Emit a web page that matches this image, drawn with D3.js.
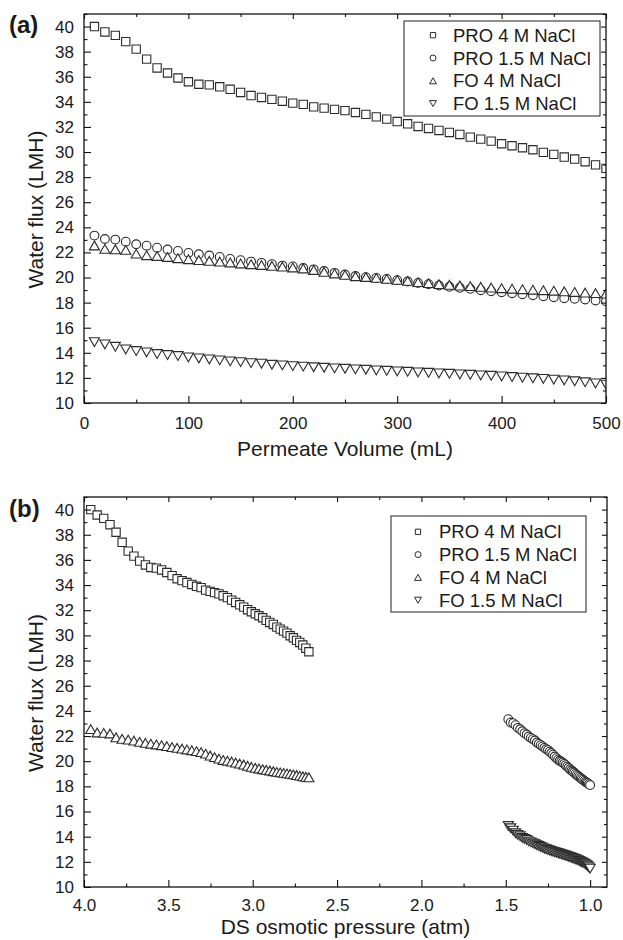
<!DOCTYPE html>
<html>
<head>
<meta charset="utf-8">
<script src="https://cdn.jsdelivr.net/npm/d3@7"></script>
<style>
  body { margin: 0; background: #fff; }
  svg text { font-family: "Liberation Sans", Arial, sans-serif; fill: #1a1a1a; }
</style>
</head>
<body>
<div id="chart"></div>
<script>
const width = 623;
const height = 940;

// permeate volume (mL)
const volume = [10, 20, 30, 40, 50, 60, 70, 80, 90, 100,
  110, 120, 130, 140, 150, 160, 170, 180, 190, 200,
  210, 220, 230, 240, 250, 260, 270, 280, 290, 300,
  310, 320, 330, 340, 350, 360, 370, 380, 390, 400,
  410, 420, 430, 440, 450, 460, 470, 480, 490, 500];

// DS osmotic pressure (atm) for the 4 M and 1.5 M runs
const osm4M = [3.960, 3.922, 3.883, 3.846, 3.810, 3.774, 3.738, 3.704, 3.670, 3.636,
  3.604, 3.571, 3.540, 3.509, 3.478, 3.448, 3.419, 3.390, 3.361, 3.333,
  3.306, 3.279, 3.252, 3.226, 3.200, 3.175, 3.150, 3.125, 3.101, 3.077,
  3.053, 3.030, 3.008, 2.985, 2.963, 2.941, 2.920, 2.899, 2.878, 2.857,
  2.837, 2.817, 2.797, 2.778, 2.759, 2.740, 2.721, 2.703, 2.685, 2.667];
const osm15M = [1.485, 1.471, 1.456, 1.442, 1.429, 1.415, 1.402, 1.389, 1.376, 1.364,
  1.351, 1.339, 1.327, 1.316, 1.304, 1.293, 1.282, 1.271, 1.261, 1.250,
  1.240, 1.230, 1.220, 1.210, 1.200, 1.190, 1.181, 1.172, 1.163, 1.154,
  1.145, 1.136, 1.128, 1.119, 1.111, 1.103, 1.095, 1.087, 1.079, 1.071,
  1.064, 1.056, 1.049, 1.042, 1.034, 1.027, 1.020, 1.014, 1.007, 1.000];

// water flux (LMH)
const pro4M = [40.0, 39.57, 39.3, 38.8, 38.2, 37.4, 36.7, 36.3, 35.9, 35.6,
  35.4, 35.35, 35.2, 35.0, 34.75, 34.5, 34.35, 34.2, 34.05, 33.9,
  33.8, 33.6, 33.5, 33.4, 33.3, 33.15, 33.0, 32.8, 32.62, 32.43,
  32.25, 32.04, 31.88, 31.72, 31.56, 31.40, 31.19, 31.03, 30.87, 30.66,
  30.50, 30.34, 30.18, 29.97, 29.81, 29.60, 29.44, 29.23, 28.98, 28.7];
const pro15M = [23.34, 23.07, 23.02, 22.86, 22.65, 22.54, 22.38, 22.23, 22.12, 21.96,
  21.85, 21.75, 21.64, 21.48, 21.38, 21.27, 21.17, 21.06, 20.95, 20.88,
  20.76, 20.65, 20.52, 20.37, 20.24, 20.12, 20.03, 19.97, 19.89, 19.79,
  19.68, 19.57, 19.47, 19.36, 19.26, 19.18, 19.10, 18.99, 18.91, 18.83,
  18.75, 18.67, 18.59, 18.51, 18.43, 18.35, 18.30, 18.25, 18.17, 18.10];
const fo4M = [22.55, 22.28, 22.25, 22.2, 21.9, 21.78, 21.72, 21.64, 21.54, 21.46,
  21.39, 21.33, 21.27, 21.2, 21.12, 21.06, 21.0, 20.93, 20.87, 20.8,
  20.72, 20.6, 20.45, 20.32, 20.21, 20.10, 20.04, 19.97, 19.89, 19.81,
  19.73, 19.63, 19.55, 19.47, 19.42, 19.36, 19.31, 19.26, 19.20, 19.15,
  19.11, 19.07, 19.03, 18.99, 18.95, 18.90, 18.85, 18.80, 18.76, 18.72];
const fo15M = [14.85, 14.67, 14.48, 14.27, 14.14, 14.03, 13.9, 13.82, 13.74, 13.63,
  13.55, 13.47, 13.4, 13.32, 13.26, 13.18, 13.13, 13.05, 13.0, 12.94,
  12.9, 12.85, 12.81, 12.76, 12.73, 12.68, 12.65, 12.60, 12.57, 12.52,
  12.49, 12.44, 12.41, 12.36, 12.33, 12.28, 12.25, 12.20, 12.17, 12.12,
  12.07, 12.02, 11.97, 11.92, 11.86, 11.80, 11.73, 11.65, 11.56, 11.46];

const seriesNames = ["PRO 4 M NaCl", "PRO 1.5 M NaCl", "FO 4 M NaCl", "FO 1.5 M NaCl"];
const yTicks = [10, 12, 14, 16, 18, 20, 22, 24, 26, 28, 30, 32, 34, 36, 38, 40];
const yMinor = [11, 13, 15, 17, 19, 21, 23, 25, 27, 29, 31, 33, 35, 37, 39, 41];
const xTicksA = [0, 100, 200, 300, 400, 500];
const xMinorA = [50, 150, 250, 350, 450];
const xTicksB = [4.0, 3.5, 3.0, 2.5, 2.0, 1.5, 1.0];
const xMinorB = [3.75, 3.25, 2.75, 2.25, 1.75, 1.25];

// marker shapes, centred on their box
const shapes = [
  s => `M${-s / 2},${-s / 2}h${s}v${s}h${-s}Z`,
  s => { const r = s / 2; return `M${r},0A${r},${r} 0 1,1 ${-r},0A${r},${r} 0 1,1 ${r},0Z`; },
  s => { const w = s * 1.15, h = s; return `M0,${-h / 2}L${w / 2},${h / 2}L${-w / 2},${h / 2}Z`; },
  s => { const w = s * 1.15, h = s; return `M0,${h / 2}L${w / 2},${-h / 2}L${-w / 2},${-h / 2}Z`; }
];
const markerSize = [8.3, 8.8, 8.8, 8.8];

const svg = d3.select("#chart").append("svg")
  .attr("width", width)
  .attr("height", height);

function panel(cfg) {
  const x = d3.scaleLinear().domain(cfg.xDomain).range([cfg.left, cfg.right]);
  const y = d3.scaleLinear().domain([10, 41]).range([cfg.bottom, cfg.top]);
  const g = svg.append("g");

  g.append("clipPath").attr("id", cfg.id)
    .append("rect")
    .attr("x", cfg.left).attr("y", cfg.top)
    .attr("width", cfg.right - cfg.left).attr("height", cfg.bottom - cfg.top);

  // data markers
  const data = g.append("g").attr("clip-path", `url(#${cfg.id})`);
  cfg.series.forEach((s, i) => {
    const pts = s.xs.map((v, j) => [v, s.ys[j]]);
    data.append("g").selectAll("path")
      .data(pts)
      .enter().append("path")
      .attr("transform", d => `translate(${x(d[0])},${y(d[1])})`)
      .attr("d", shapes[i](markerSize[i]))
      .attr("fill", "#fff")
      .attr("stroke", "#2b2b2b")
      .attr("stroke-width", 1.1);
  });

  // axes, ticks pointing inward on all sides
  const addAxis = (axis, tx, ty, labels) => {
    const a = g.append("g").attr("transform", `translate(${tx},${ty})`).call(axis);
    a.select(".domain").remove();
    a.selectAll("line").attr("stroke", "#111").attr("stroke-width", 1.1);
    a.selectAll("text").style("font-size", "17px").attr("fill", "#1a1a1a");
    if (!labels) a.selectAll("text").remove();
    return a;
  };
  const fmt = cfg.xFormat;
  addAxis(d3.axisBottom(x).tickValues(cfg.xTicks).tickSize(-7).tickSizeOuter(0).tickPadding(cfg.xPad).tickFormat(fmt), 0, cfg.bottom, true);
  addAxis(d3.axisBottom(x).tickValues(cfg.xMinor).tickSize(-3.5).tickSizeOuter(0).tickFormat(""), 0, cfg.bottom, false);
  addAxis(d3.axisTop(x).tickValues(cfg.xTicks).tickSize(-5).tickSizeOuter(0).tickFormat(""), 0, cfg.top, false);
  addAxis(d3.axisTop(x).tickValues(cfg.xMinor).tickSize(-3).tickSizeOuter(0).tickFormat(""), 0, cfg.top, false);
  addAxis(d3.axisLeft(y).tickValues(yTicks).tickSize(-7).tickSizeOuter(0).tickPadding(10), cfg.left, 0, true);
  addAxis(d3.axisLeft(y).tickValues(yMinor).tickSize(-3.5).tickSizeOuter(0).tickFormat(""), cfg.left, 0, false);
  addAxis(d3.axisRight(y).tickValues(yTicks).tickSize(-5).tickSizeOuter(0).tickFormat(""), cfg.right, 0, false);
  addAxis(d3.axisRight(y).tickValues(yMinor).tickSize(-3).tickSizeOuter(0).tickFormat(""), cfg.right, 0, false);

  g.append("rect")
    .attr("x", cfg.left).attr("y", cfg.top)
    .attr("width", cfg.right - cfg.left).attr("height", cfg.bottom - cfg.top)
    .attr("fill", "none").attr("stroke", "#111").attr("stroke-width", 1.3);

  // titles
  g.append("text")
    .attr("x", (cfg.left + cfg.right) / 2).attr("y", cfg.xTitleY)
    .attr("text-anchor", "middle").style("font-size", "21px")
    .text(cfg.xTitle);
  g.append("text")
    .attr("transform", `translate(43,${(cfg.top + cfg.bottom) / 2 + 1}) rotate(-90)`)
    .attr("text-anchor", "middle").style("font-size", "21px")
    .text("Water flux (LMH)");
  g.append("text")
    .attr("x", 9).attr("y", cfg.labelY)
    .style("font-size", "24px").style("font-weight", "bold")
    .text(cfg.label);

  // legend
  const lg = g.append("g");
  lg.append("rect")
    .attr("x", cfg.legend.x0).attr("y", cfg.legend.y0)
    .attr("width", cfg.legend.x1 - cfg.legend.x0).attr("height", cfg.legend.y1 - cfg.legend.y0)
    .attr("fill", "#fff").attr("stroke", "#333").attr("stroke-width", 1.1);
  seriesNames.forEach((name, i) => {
    const base = cfg.legend.base + i * 22.8;
    lg.append("path")
      .attr("transform", `translate(${cfg.legend.sym},${base - 6.5})`)
      .attr("d", shapes[i](i === 0 ? 5.3 : 6))
      .attr("fill", "#fff").attr("stroke", "#2b2b2b").attr("stroke-width", 1);
    lg.append("text")
      .attr("x", cfg.legend.text).attr("y", base)
      .style("font-size", "18.5px")
      .text(name);
  });
}

panel({
  id: "clipA", label: "(a)", labelY: 33,
  left: 84, right: 606, top: 14, bottom: 403,
  xDomain: [0, 500], xTicks: xTicksA, xMinor: xMinorA, xPad: 14,
  xFormat: d3.format("d"),
  xTitle: "Permeate Volume (mL)", xTitleY: 456,
  series: [
    { xs: volume, ys: pro4M },
    { xs: volume, ys: pro15M },
    { xs: volume, ys: fo4M },
    { xs: volume, ys: fo15M }
  ],
  legend: { x0: 404, x1: 600, y0: 21, y1: 116, sym: 433, text: 453, base: 41.7 }
});

panel({
  id: "clipB", label: "(b)", labelY: 517,
  left: 84, right: 607, top: 497, bottom: 887,
  xDomain: [4.0, 0.9], xTicks: xTicksB, xMinor: xMinorB, xPad: 12,
  xFormat: d3.format(".1f"),
  xTitle: "DS osmotic pressure (atm)", xTitleY: 934,
  series: [
    { xs: osm4M, ys: pro4M },
    { xs: osm15M, ys: pro15M },
    { xs: osm4M, ys: fo4M },
    { xs: osm15M, ys: fo15M }
  ],
  legend: { x0: 391, x1: 586, y0: 516, y1: 612, sym: 418, text: 439, base: 538.3 }
});
</script>
</body>
</html>
